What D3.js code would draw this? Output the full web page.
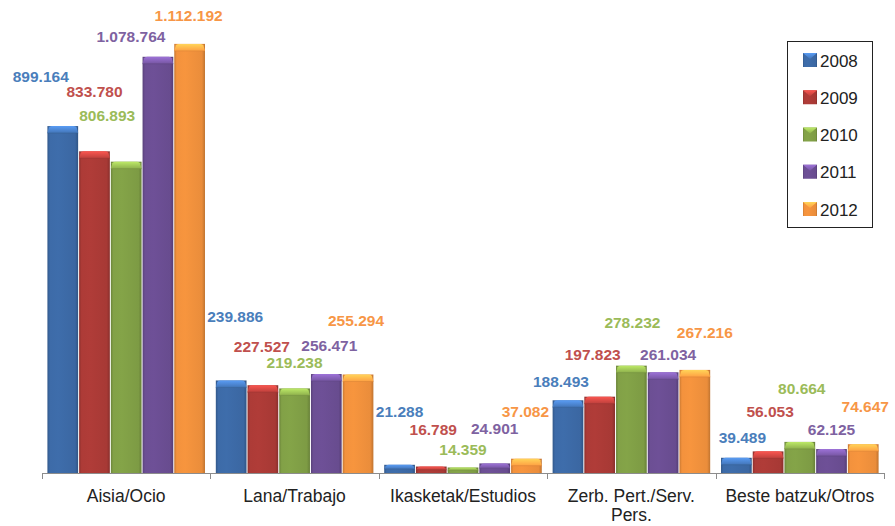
<!DOCTYPE html>
<html>
  <head>
    <meta charset="utf-8" />
    <script src="https://cdn.jsdelivr.net/npm/d3@7"></script>
    <style>
      body { margin: 0; background: #fff; }
      svg { display: block; }
      .cat { font-family: "Liberation Sans", Arial, sans-serif; font-size: 17.5px; fill: #222; }
      .val { font-family: "Liberation Sans", Arial, sans-serif; font-size: 15.5px; font-weight: bold; }
      .leg { font-family: "Liberation Sans", Arial, sans-serif; font-size: 17px; fill: #222; }
    </style>
  </head>
  <body>
    <script>
      // data
      var categories = ["Aisia/Ocio", "Lana/Trabajo", "Ikasketak/Estudios", "Zerb. Pert./Serv. Pers.", "Beste batzuk/Otros"];
      var years = ["2008", "2009", "2010", "2011", "2012"];
      var v2008 = [899164, 239886, 21288, 188493, 39489];
      var v2009 = [833780, 227527, 16789, 197823, 56053];
      var v2010 = [806893, 219238, 14359, 278232, 80664];
      var v2011 = [1078764, 256471, 24901, 261034, 62125];
      var v2012 = [1112192, 255294, 37082, 267216, 74647];
      var values = [v2008, v2009, v2010, v2011, v2012];

      // look
      var barColors = ["#3E6DAB", "#B03C38", "#84A448", "#6E5097", "#F7953E"];
      var labelColors = ["#4A7EBB", "#C0504D", "#9BBB59", "#7E62A1", "#F79646"];
      // hand placed labels in the original: [dx from bar centre, lift above bar top]
      var nudge = [
        [[-22, 44], [4, 58], [0, 48], [-7, 13], [6, 15]],
        [[0, 54], [-1, 33], [2, 32], [-7, 37], [2, 34]],
        [[-19, 41], [0, 20], [0, 12], [1, 38], [2, 48]],
        [[-27, 15], [3, 23], [0, 29], [5, 12], [0, 14]],
        [[-1, 23], [-2, 48], [-1, 42], [10, 32], [2, 32]]
      ];

      var W = 895, H = 526;
      var base = 473;

      function fmt(v) {
        return d3.format(",")(v).replace(/,/g, ".");
      }

      var svg = d3.select("body").append("svg")
        .attr("width", W)
        .attr("height", H);

      var defs = svg.append("defs");
      barColors.forEach(function (c, i) {
        var g = defs.append("linearGradient")
          .attr("id", "body" + i)
          .attr("x1", "0").attr("x2", "1").attr("y1", "0").attr("y2", "0");
        g.append("stop").attr("offset", "0").attr("stop-color", d3.color(c).darker(0.6));
        g.append("stop").attr("offset", "0.08").attr("stop-color", d3.color(c).darker(0.05));
        g.append("stop").attr("offset", "0.35").attr("stop-color", c);
        g.append("stop").attr("offset", "0.9").attr("stop-color", d3.color(c).darker(0.15));
        g.append("stop").attr("offset", "1").attr("stop-color", d3.color(c).darker(0.7));
        var t = defs.append("linearGradient")
          .attr("id", "cap" + i)
          .attr("x1", "0").attr("x2", "0").attr("y1", "0").attr("y2", "1");
        t.append("stop").attr("offset", "0").attr("stop-color", d3.color(c).brighter(1.0));
        t.append("stop").attr("offset", "1").attr("stop-color", d3.color(c).brighter(0.2));
      });

      var x = d3.scaleBand().domain(categories).range([42, 884]).padding(0);
      var xs = d3.scaleBand().domain(years).range([0, x.bandwidth()]).paddingInner(0).paddingOuter(0.155);
      var y = d3.scaleLinear().domain([0, 1200000]).range([base, 10]);

      // axis
      var axis = svg.append("g");
      axis.append("line")
        .attr("x1", x.range()[0]).attr("x2", x.range()[1])
        .attr("y1", base + 0.5).attr("y2", base + 0.5)
        .attr("stroke", "#8c8c8c").attr("stroke-width", 1);
      var edges = categories.map(function (c) { return x(c); }).concat([x.range()[1]]);
      axis.selectAll("line.tick").data(edges).enter().append("line")
        .attr("class", "tick")
        .attr("x1", function (d) { return Math.round(d) + 0.5; })
        .attr("x2", function (d) { return Math.round(d) + 0.5; })
        .attr("y1", base).attr("y2", base + 6)
        .attr("stroke", "#8c8c8c");

      // bars
      years.forEach(function (yr, s) {
        var g = svg.append("g");
        var bars = g.selectAll("g").data(values[s]).enter().append("g")
          .attr("transform", function (d, i) {
            return "translate(" + (x(categories[i]) + xs(yr)) + ",0)";
          });
        var bw = xs.bandwidth();
        bars.append("rect")
          .attr("x", 0.5)
          .attr("width", bw - 1)
          .attr("y", function (d) { return y(d); })
          .attr("height", function (d) { return base - y(d); })
          .attr("fill", "url(#body" + s + ")");
        // bevelled top
        bars.append("path")
          .attr("d", function (d) {
            var t = y(d), h = Math.min(7, (base - t) / 2);
            return "M0.5," + (t + h) + "L2," + (t + 1.5) + "Q3," + t + " 5," + t +
              "L" + (bw - 5) + "," + t + "Q" + (bw - 3) + "," + t + " " + (bw - 2) + "," + (t + 1.5) +
              "L" + (bw - 0.5) + "," + (t + h) + "Z";
          })
          .attr("fill", "url(#cap" + s + ")");
        bars.append("line")
          .attr("x1", 0.5).attr("x2", bw - 0.5)
          .attr("y1", function (d) { return y(d) + Math.min(7, (base - y(d)) / 2); })
          .attr("y2", function (d) { return y(d) + Math.min(7, (base - y(d)) / 2); })
          .attr("stroke", d3.color(barColors[s]).darker(0.4))
          .attr("stroke-opacity", 0.5);
      });

      // value labels
      years.forEach(function (yr, s) {
        svg.append("g").selectAll("text").data(values[s]).enter().append("text")
          .attr("class", "val")
          .attr("text-anchor", "middle")
          .attr("fill", labelColors[s])
          .attr("x", function (d, i) { return x(categories[i]) + xs(yr) + xs.bandwidth() / 2 + nudge[s][i][0]; })
          .attr("y", function (d, i) { return y(d) - nudge[s][i][1]; })
          .style("paint-order", "stroke")
          .attr("stroke", "#fff")
          .attr("stroke-width", 2)
          .text(fmt);
      });

      // category labels
      var cl = svg.append("g").selectAll("text").data(categories).enter().append("text")
        .attr("class", "cat")
        .attr("text-anchor", "middle")
        .attr("x", function (d) { return x(d) + x.bandwidth() / 2; })
        .attr("y", 502);
      cl.each(function (d) {
        var t = d3.select(this);
        if (d.indexOf("Zerb") === 0) {
          t.append("tspan").attr("x", t.attr("x")).text("Zerb. Pert./Serv.");
          t.append("tspan").attr("x", t.attr("x")).attr("dy", 19).text("Pers.");
        } else {
          t.text(d);
        }
      });

      // legend
      var leg = svg.append("g");
      leg.append("rect")
        .attr("x", 787.5).attr("y", 41.5)
        .attr("width", 85).attr("height", 186)
        .attr("fill", "#fff").attr("stroke", "#222");
      var ly = d3.scalePoint().domain(years).range([60, 209]);
      var li = leg.selectAll("g.item").data(years).enter().append("g")
        .attr("class", "item")
        .attr("transform", function (d) { return "translate(803," + ly(d) + ")"; });
      li.append("rect")
        .attr("x", 0).attr("y", -7).attr("width", 14).attr("height", 14)
        .attr("fill", function (d, i) { return "url(#body" + i + ")"; });
      li.append("path")
        .attr("d", "M0,-7L14,-7L7,-1Z")
        .attr("fill", function (d, i) { return "url(#cap" + i + ")"; });
      li.append("text")
        .attr("class", "leg")
        .attr("x", 17).attr("y", 6.5)
        .text(function (d) { return d; });
    </script>
  </body>
</html>
